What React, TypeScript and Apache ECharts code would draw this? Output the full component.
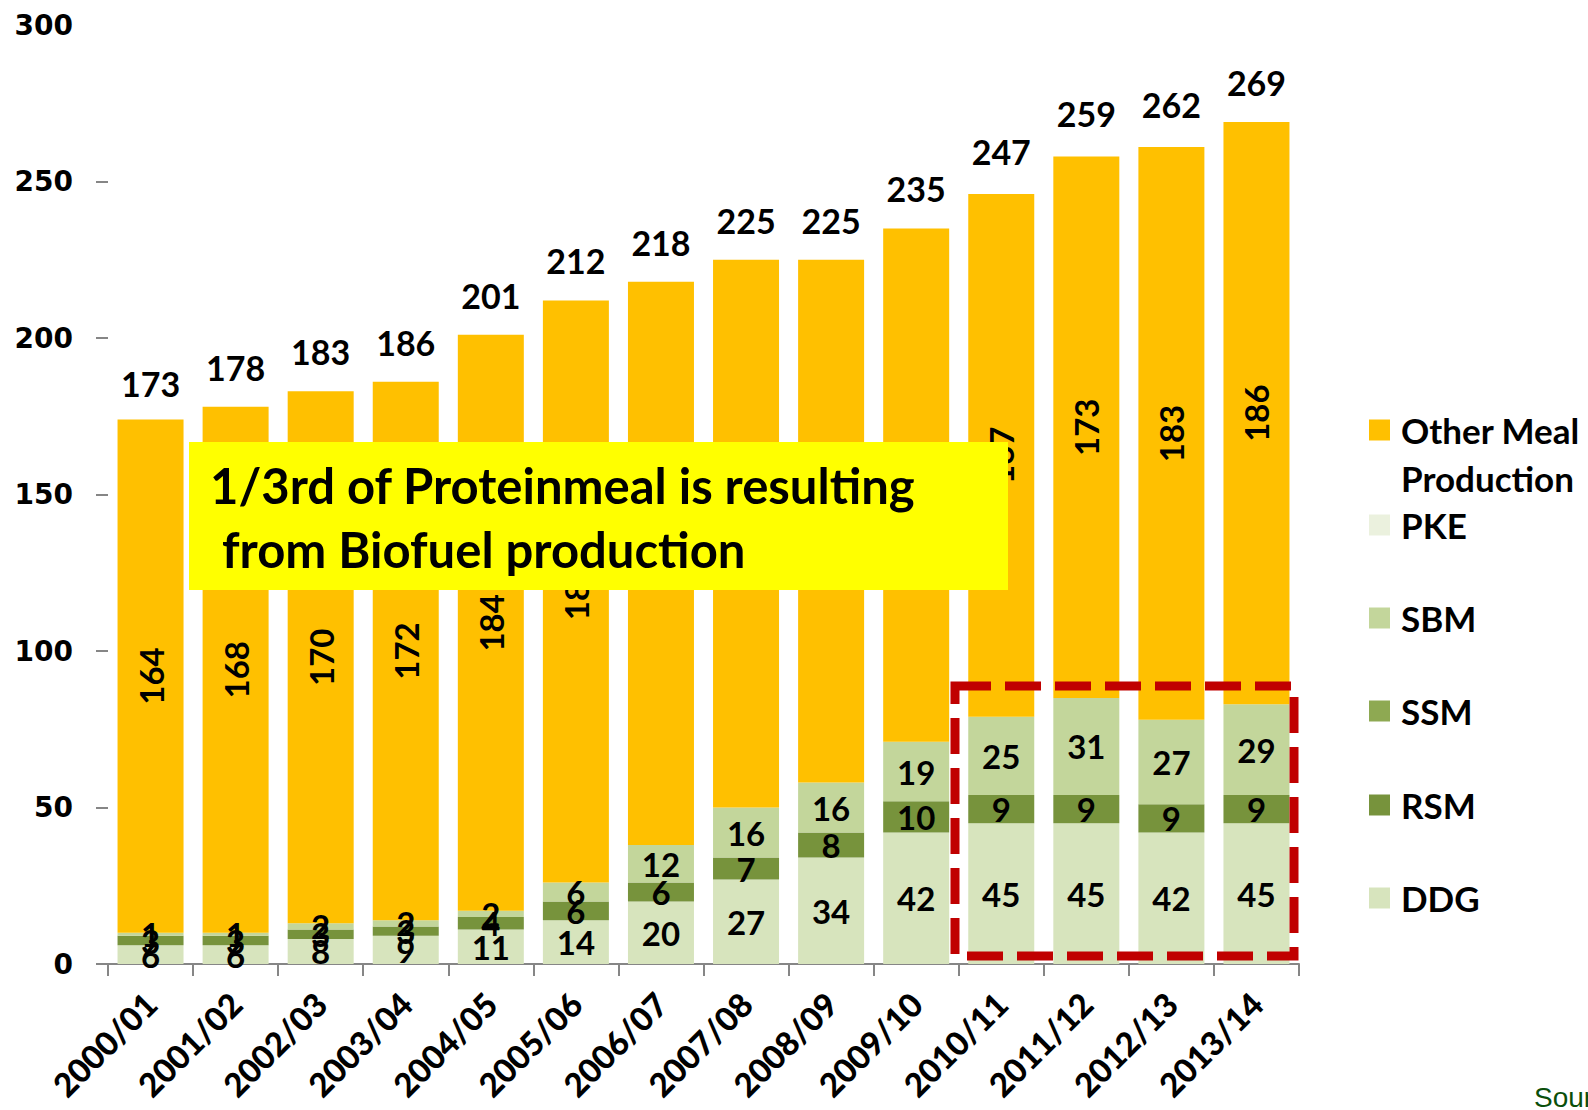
import React, { useEffect, useRef } from 'react';
import * as echarts from 'echarts';

const categories = ['2000/01', '2001/02', '2002/03', '2003/04', '2004/05', '2005/06', '2006/07', '2007/08', '2008/09', '2009/10', '2010/11', '2011/12', '2012/13', '2013/14'];
const ddg = [6, 6, 8, 9, 11, 14, 20, 27, 34, 42, 45, 45, 42, 45];
const rsm = [3, 3, 3, 3, 4, 6, 6, 7, 8, 10, 9, 9, 9, 9];
const ssm = [0, 0, 0, 0, 0, 0, 0, 0, 0, 0, 0, 0, 0, 0];
const sbm = [1, 1, 2, 2, 2, 6, 12, 16, 16, 19, 25, 31, 27, 29];
const pke = [0, 0, 0, 0, 0, 0, 0, 0, 0, 0, 0, 0, 0, 0];
const otherMeal = [164, 168, 170, 172, 184, 186, 180, 175, 167, 164, 167, 173, 183, 186];
const totals = [173, 178, 183, 186, 201, 212, 218, 225, 225, 235, 247, 259, 262, 269];
const yTicks = [0, 50, 100, 150, 200, 250];

const COLORS = {
  other: '#FFC000',
  pke: '#EBF1DE',
  sbm: '#C3D69B',
  ssm: '#8EA952',
  rsm: '#77933C',
  ddg: '#D7E4BD',
};

export default function App() {
  const ref = useRef<HTMLDivElement>(null);
  useEffect(() => {
    const chart = echarts.init(ref.current!, null, { renderer: 'svg' });
    const segLabel = (extra: any = {}) => ({
      show: true,
      position: 'inside',
      color: '#000',
      fontFamily: 'Lato',
      fontWeight: 'bold',
      fontSize: 33,
      formatter: (p: any) => (p.value > 0 ? String(p.value) : ''),
      ...extra,
    });
    const mk = (name: string, data: number[], color: string, labelExtra: any = {}) => ({
      name,
      type: 'bar',
      stack: 'total',
      data,
      barWidth: 66,
      itemStyle: { color },
      label: segLabel(labelExtra),
    });
    const legendItems: [string, number][] = [
      ['Other Meal Production', 430],
      ['PKE', 525],
      ['SBM', 618],
      ['SSM', 711],
      ['RSM', 805],
      ['DDG', 898],
    ];
    chart.setOption({
      animation: false,
      grid: { left: 108, right: 289, top: 25, bottom: 146, containLabel: false },
      xAxis: {
        type: 'category',
        data: categories,
        axisLine: { show: true, lineStyle: { color: '#868686', width: 2 } },
        axisTick: { show: true, length: 12, lineStyle: { color: '#868686', width: 2 } },
        axisLabel: {
          interval: 0,
          rotate: 45,
          margin: 34,
          color: '#000',
          fontFamily: 'Lato',
          fontWeight: 900,
          fontSize: 33,
        },
      },
      yAxis: {
        type: 'value',
        min: 0,
        max: 300,
        interval: 50,
        axisLine: { show: false },
        axisTick: { show: true, length: 12, customValues: yTicks, lineStyle: { color: '#868686', width: 2 } },
        splitLine: { show: false },
        axisLabel: {
          margin: 35,
          color: '#000',
          fontFamily: 'DejaVu Sans',
          fontWeight: 'bold',
          fontSize: 28,
        },
      },
      legend: legendItems.map(([name, cy]) => ({
        data: [name],
        left: 1369,
        top: cy - 18,
        orient: 'vertical',
        icon: 'rect',
        itemWidth: 21,
        itemHeight: 21,
        padding: 0,
        selectedMode: false,
        formatter: (n: string) => (n === 'Other Meal Production' ? 'Other Meal' : n),
        textStyle: {
          fontFamily: 'Lato',
          fontWeight: 'bold',
          fontSize: 35,
          lineHeight: 36,
          color: '#000',
          padding: [0, 0, 0, 6],
        },
      })),
      series: [
        mk('DDG', ddg, COLORS.ddg),
        mk('RSM', rsm, COLORS.rsm),
        mk('SSM', ssm, COLORS.ssm),
        mk('SBM', sbm, COLORS.sbm),
        mk('PKE', pke, COLORS.pke),
        mk('Other Meal Production', otherMeal, COLORS.other, { rotate: 90 }),
        {
          name: 'Total',
          type: 'line',
          data: totals,
          symbol: 'circle',
          symbolSize: 1,
          itemStyle: { color: 'rgba(0,0,0,0)' },
          lineStyle: { width: 0, opacity: 0 },
          label: {
            show: true,
            position: 'top',
            distance: 22,
            color: '#000',
            fontFamily: 'Lato',
            fontWeight: 'bold',
            fontSize: 34,
          },
          z: 5,
        },
      ],
      graphic: [
        {
          type: 'rect',
          shape: { x: 189, y: 442, width: 819, height: 148 },
          style: { fill: '#FFFF00' },
          z: 100,
        },
        {
          type: 'text',
          x: 210,
          y: 485,
          z: 101,
          style: { text: '1/3rd of Proteinmeal is resulting', fill: '#000', fontFamily: 'Lato', fontWeight: 'bold', fontSize: 49, verticalAlign: 'middle' },
        },
        {
          type: 'text',
          x: 222,
          y: 549,
          z: 101,
          style: { text: 'from Biofuel production', fill: '#000', fontFamily: 'Lato', fontWeight: 'bold', fontSize: 49, verticalAlign: 'middle' },
        },
        {
          type: 'rect',
          shape: { x: 955, y: 686, width: 339, height: 270 },
          style: { fill: 'none', stroke: '#C00000', lineWidth: 9, lineDash: [36, 14] },
          z: 100,
        },
        {
          type: 'text',
          x: 1401,
          y: 478,
          z: 101,
          style: { text: 'Production', fill: '#000', fontFamily: 'Lato', fontWeight: 'bold', fontSize: 35, verticalAlign: 'middle' },
        },
        {
          type: 'text',
          x: 1534,
          y: 1097,
          z: 101,
          style: { text: 'Source: Oil World', fill: '#0B4F0B', fontFamily: 'Liberation Sans', fontSize: 28, verticalAlign: 'middle' },
        },
      ],
    });
    return () => chart.dispose();
  }, []);
  return <div ref={ref} style={{ position: 'absolute', left: 0, top: 0, width: 1588, height: 1110 }} />;
}
